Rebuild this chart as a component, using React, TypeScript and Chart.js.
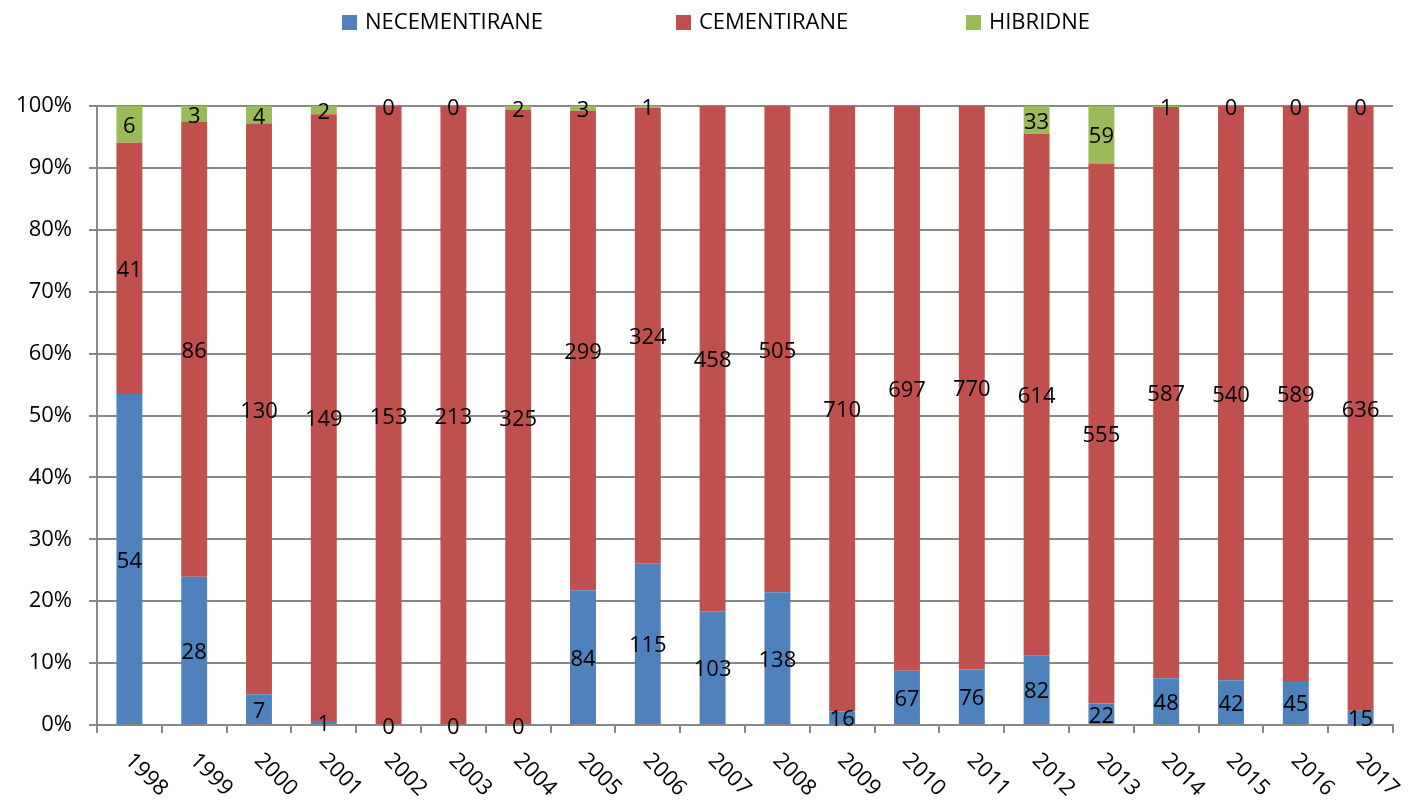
import React, { useEffect, useRef } from "react";
import { Chart, registerables } from "chart.js";

Chart.register(...registerables);

const YEARS = ["1998", "1999", "2000", "2001", "2002", "2003", "2004", "2005", "2006", "2007", "2008", "2009", "2010", "2011", "2012", "2013", "2014", "2015", "2016", "2017"];
const NECEMENTIRANE = [54, 28, 7, 1, 0, 0, 0, 84, 115, 103, 138, 16, 67, 76, 82, 22, 48, 42, 45, 15];
const CEMENTIRANE = [41, 86, 130, 149, 153, 213, 325, 299, 324, 458, 505, 710, 697, 770, 614, 555, 587, 540, 589, 636];
const HIBRIDNE: (number | null)[] = [6, 3, 4, 2, 0, 0, 2, 3, 1, null, null, null, null, null, 33, 59, 1, 0, 0, 0];
const SERIES_NAMES = ["NECEMENTIRANE", "CEMENTIRANE", "HIBRIDNE"];
const SERIES_COLORS = ["#4F81BD", "#C0504D", "#9BBB59"];
const Y_MAX = 100;
const Y_STEP = 10;

const FONT = '"Open Sans", "DejaVu Sans", sans-serif';
const LEGEND_X = [342, 676, 966];

const SERIES = [NECEMENTIRANE, CEMENTIRANE, HIBRIDNE];

const totals = YEARS.map((_, i) =>
  SERIES.reduce((s, arr) => s + (arr[i] == null ? 0 : (arr[i] as number)), 0)
);
const toPct = (arr: (number | null)[]) =>
  arr.map((v, i) => (v == null ? null : (v / totals[i]) * 100));

const overlayPlugin = {
  id: "overlay",
  afterDatasetsDraw(chart: any) {
    const ctx = chart.ctx;
    ctx.save();
    ctx.font = `22px ${FONT}`;
    ctx.fillStyle = "#000";
    ctx.textAlign = "center";
    ctx.textBaseline = "middle";
    chart.data.datasets.forEach((ds: any, di: number) => {
      const meta = chart.getDatasetMeta(di);
      meta.data.forEach((el: any, i: number) => {
        const v = ds.counts[i];
        if (v == null) return;
        const { x, y, base } = el.getProps(["x", "y", "base"], true);
        ctx.fillText(String(v), x, (y + base) / 2 + 2.5);
      });
    });
    ctx.restore();
  },
  afterDraw(chart: any) {
    const ctx = chart.ctx;
    const xs = chart.scales.x;
    ctx.save();
    // x labels rotated
    ctx.font = `22px ${FONT}`;
    ctx.fillStyle = "#000";
    ctx.textAlign = "left";
    ctx.textBaseline = "middle";
    chart.data.labels.forEach((lab: string, i: number) => {
      const px = xs.getPixelForValue(i);
      ctx.save();
      ctx.translate(px - 1, xs.top + 32);
      ctx.rotate(Math.PI / 4);
      ctx.fillText(lab, 0, 0);
      ctx.restore();
    });
    // legend
    ctx.font = `22px ${FONT}`;
    chart.data.datasets.forEach((ds: any, di: number) => {
      const lx = LEGEND_X[di];
      ctx.fillStyle = ds.backgroundColor;
      ctx.fillRect(lx, 15, 15, 15);
      ctx.fillStyle = "#000";
      ctx.textAlign = "left";
      ctx.textBaseline = "middle";
      ctx.fillText(ds.label, lx + 23, 23);
    });
    ctx.restore();
  },
};

export default function App() {
  const ref = useRef<HTMLCanvasElement | null>(null);
  useEffect(() => {
    document.body.style.margin = "0";
    const canvas = ref.current;
    if (!canvas) return;
    const chart = new Chart(canvas, {
      type: "bar",
      data: {
        labels: YEARS,
        datasets: SERIES.map((arr, i) => ({
          label: SERIES_NAMES[i],
          data: toPct(arr),
          counts: arr,
          backgroundColor: SERIES_COLORS[i],
          borderWidth: 0,
          barPercentage: 0.4,
          categoryPercentage: 1,
        })) as any,
      },
      options: {
        responsive: false,
        devicePixelRatio: 1,
        animation: false,
        layout: { padding: { top: 106, right: 17, left: 0, bottom: 0 } },
        plugins: {
          legend: { display: false },
          tooltip: { enabled: false },
        },
        scales: {
          x: {
            stacked: true,
            grid: {
              offset: true,
              drawOnChartArea: false,
              drawTicks: true,
              tickLength: 8,
              color: "#888",
              lineWidth: 2,
            },
            border: { color: "#888", width: 2 },
            ticks: { display: false },
            afterFit: (s: any) => {
              s.height = 78;
            },
          },
          y: {
            stacked: true,
            min: 0,
            max: Y_MAX,
            ticks: {
              stepSize: Y_STEP,
              callback: (v: any) => v + "%",
              font: { size: 22, family: FONT },
              color: "#000",
              padding: 17,
            },
            grid: { color: "#888", lineWidth: 2, tickLength: 8 },
            border: { color: "#888", width: 2 },
            afterFit: (s: any) => {
              s.width = 97;
            },
          },
        },
      },
      plugins: [overlayPlugin],
    });
    return () => chart.destroy();
  }, []);
  return (
    <div style={{ position: "fixed", left: 0, top: 0, width: 1410, height: 803 }}>
      <canvas ref={ref} width={1410} height={803} />
    </div>
  );
}
